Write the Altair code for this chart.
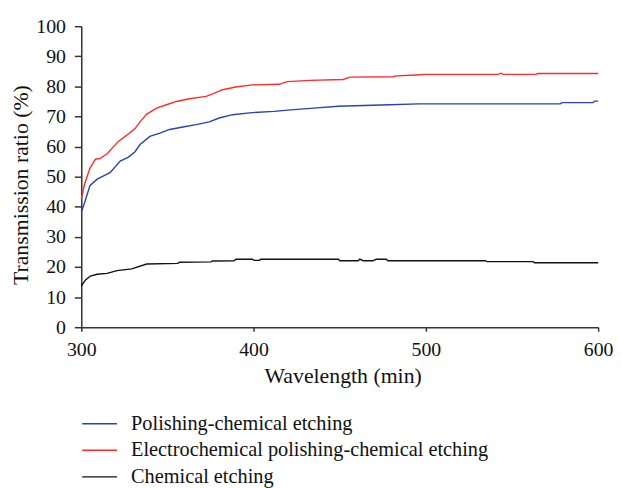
import altair as alt
import pandas as pd

series_names = ["Polishing-chemical etching",
                "Electrochemical polishing-chemical etching",
                "Chemical etching"]
series_colors = ["#2a44a8", "#ff2b2b", "#111111"]

wl_blue = [300, 302, 305, 309.2, 313, 316.8, 322.6, 327.4, 331.2, 334.1, 339.8, 345.6,
           351.3, 359, 366.7, 374.3, 380, 387.8, 399.2, 411.9, 421.4, 434.9, 449.2,
           478.9, 496.2, 520, 550, 578, 579, 597, 598, 600]
val_blue = [38.2, 41.5, 47, 49.2, 50.3, 51.4, 55.2, 56.5, 58.3, 60.7, 63.4, 64.5,
            65.7, 66.5, 67.3, 68.2, 69.5, 70.6, 71.3, 71.7, 72.2, 72.8, 73.4,
            73.9, 74.2, 74.2, 74.2, 74.2, 74.6, 74.6, 75.1, 75.1]

wl_red = [300, 301.9, 305, 308.2, 311, 315, 317.8, 321.7, 326.4, 331.2, 334.1, 338,
          343.7, 349.4, 355.2, 362.8, 372.4, 376.3, 382, 389.7, 399.2, 414.8, 419.5,
          432.9, 452, 455.9, 480.9, 482.8, 494.3, 500, 542, 543.5, 545, 564, 565, 600]
val_red = [42.6, 47.5, 52.8, 55.8, 56.1, 57.6, 59.4, 61.8, 63.8, 66, 68.2, 70.8,
           72.8, 73.9, 75, 75.9, 76.7, 77.5, 78.9, 79.8, 80.5, 80.7, 81.6,
           82, 82.3, 83.1, 83.2, 83.5, 83.8, 84, 84, 84.4, 84, 84, 84.3, 84.3]

wl_black = [300, 302.5, 305.3, 309.2, 315, 320.7, 329.3, 338, 356.1, 357,
            375.3, 376.2, 388.7, 389.7, 399.2, 400.4, 403.4, 404.2, 449.2, 450.2,
            460.7, 461.7, 463.6, 469.3, 471.3, 477, 478, 534.5, 535.5, 562.2,
            563.2, 600]
val_black = [13.7, 15.7, 17, 17.6, 17.9, 18.8, 19.4, 21, 21.2, 21.6,
             21.7, 22, 22.1, 22.6, 22.6, 22.2, 22.2, 22.6, 22.6, 22.1,
             22.1, 22.6, 22.1, 22.1, 22.6, 22.6, 22.1, 22.1, 21.8, 21.8,
             21.4, 21.4]

x_ticks = [300, 400, 500, 600]
y_ticks = [0, 10, 20, 30, 40, 50, 60, 70, 80, 90, 100]

rows = []
for name, wls, vals in zip(series_names, [wl_blue, wl_red, wl_black],
                           [val_blue, val_red, val_black]):
    for i, (w, v) in enumerate(zip(wls, vals)):
        rows.append({"series": name, "wl": w, "val": v, "order": i})
df = pd.DataFrame(rows)

FONT = "Liberation Serif"

chart = alt.Chart(df).mark_line(strokeWidth=1.4).encode(
    x=alt.X("wl:Q", scale=alt.Scale(domain=[300, 600], nice=False),
            axis=alt.Axis(title="Wavelength (min)", values=x_ticks, grid=False,
                          tickSize=4, labelPadding=9, labelFlush=False,
                          titleX=264, titleY=55.5, titleBaseline="alphabetic",
                          labelFontSize=20, titleFontSize=22, format="d")),
    y=alt.Y("val:Q", scale=alt.Scale(domain=[0, 100], nice=False),
            axis=alt.Axis(title="Transmission ratio (%)", values=y_ticks, grid=False,
                          tickSize=7, labelPadding=9,
                          titleX=-54, titleY=160, titleBaseline="alphabetic",
                          titleAngle=270,
                          labelFontSize=20, titleFontSize=22)),
    color=alt.Color("series:N",
                    scale=alt.Scale(domain=series_names, range=series_colors),
                    sort=series_names,
                    legend=alt.Legend(title=None, orient="none", legendX=4, legendY=387,
                                      symbolType="M-1.3,0H1.3", symbolSize=729,
                                      symbolFillColor="transparent",
                                      symbolStrokeWidth=1.4, labelFontSize=20.5,
                                      labelFont=FONT, labelOffset=17.3, rowPadding=1.8,
                                      padding=0, labelColor="#111", labelLimit=0)),
    detail="series:N",
    order="order:Q",
).properties(
    width=522, height=304,
    background="white",
    autosize=alt.AutoSizeParams(type="none"),
    padding={"left": 74, "top": 16, "right": 15, "bottom": 160},
).configure_view(stroke=None).configure_axis(
    labelFont=FONT, titleFont=FONT, labelColor="#111", titleColor="#111",
    titleFontWeight="normal", domainColor="#333", tickColor="#333",
    domainWidth=1.5, tickWidth=1.5,
)

chart.save("out.html", embed_options={"renderer": "svg", "actions": False})
